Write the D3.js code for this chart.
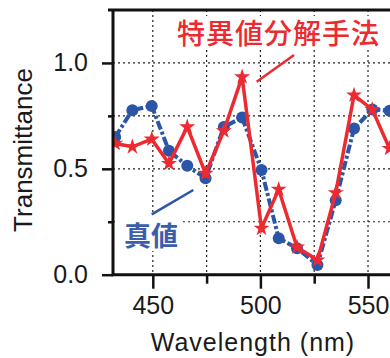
<!DOCTYPE html>
<html>
<head>
<meta charset="utf-8">
<script src="https://cdn.jsdelivr.net/npm/d3@7"></script>
<style>
  body { margin: 0; background: #fff; }
  svg { display: block; }
</style>
</head>
<body>
<div class="container"></div>
<script>
const w = 390, h = 358;
const pad = {top: 10, left: 113, bottom: 274.7};

// data
const wavelength = [432.5, 440.5, 449.5, 457.5, 466, 474.5, 483, 491.5, 500.5, 508.5, 517, 526.5, 535, 543.5, 552, 560];
const trueVals   = [0.65, 0.777, 0.797, 0.585, 0.514, 0.455, 0.698, 0.742, 0.494, 0.172, 0.125, 0.046, 0.352, 0.69, 0.78, 0.774];
const svdVals    = [0.62, 0.604, 0.64, 0.525, 0.698, 0.478, 0.679, 0.934, 0.219, 0.403, 0.13, 0.069, 0.387, 0.848, 0.78, 0.596];
const xMajor = [450, 500, 550];
const xMinor = [475, 525];
const yMajor = [0, 0.5, 1.0];
const yMinor = [0.25, 0.75];

const red = '#ec2a30';
const blue = '#2b56a8';

const svg = d3.select('.container')
              .append('svg')
              .attr('width', w)
              .attr('height', h);

const xScale = d3.scaleLinear().domain([431.5, 575]).range([pad.left, pad.left + 143.5 * 2.152]);
const yScale = d3.scaleLinear().domain([0, 1.25]).range([pad.bottom, pad.top]);
const x1 = xScale.range()[1];

// dotted grid
const grid = svg.append('g').attr('stroke', '#222').attr('stroke-width', 1.2).attr('stroke-dasharray', '2,3');
grid.selectAll('.gx')
    .data(xMajor.concat(xMinor))
    .enter().append('line')
    .attr('x1', d => xScale(d)).attr('x2', d => xScale(d))
    .attr('y1', pad.top).attr('y2', pad.bottom);
grid.selectAll('.gy')
    .data(yMajor.slice(1).concat(yMinor))
    .enter().append('line')
    .attr('x1', pad.left).attr('x2', x1)
    .attr('y1', d => yScale(d)).attr('y2', d => yScale(d));

// white boxes behind the annotations
svg.append('rect').attr('x', 174).attr('y', 16).attr('width', 212).attr('height', 34).attr('fill', '#fff');
svg.append('rect').attr('x', 118).attr('y', 213).attr('width', 63).attr('height', 38).attr('fill', '#fff');

// clip data to the plot area
svg.append('clipPath').attr('id', 'plot')
   .append('rect').attr('x', pad.left).attr('y', pad.top)
   .attr('width', x1 - pad.left).attr('height', pad.bottom - pad.top);
const plot = svg.append('g').attr('clip-path', 'url(#plot)');

const line = d3.line().x(d => xScale(d[0])).y(d => yScale(d[1]));
const trueData = d3.zip(wavelength, trueVals);
const svdData = d3.zip(wavelength, svdVals);

plot.append('path')
    .attr('d', line(trueData))
    .attr('fill', 'none')
    .attr('stroke', blue)
    .attr('stroke-width', 4)
    .attr('stroke-dasharray', '9,2.5,3,2.5');
plot.selectAll('.dot')
    .data(trueData)
    .enter().append('circle')
    .attr('cx', d => xScale(d[0]))
    .attr('cy', d => yScale(d[1]))
    .attr('r', 6)
    .attr('fill', blue);

plot.append('path')
    .attr('d', line(svdData))
    .attr('fill', 'none')
    .attr('stroke', red)
    .attr('stroke-width', 3.5);
plot.selectAll('.star')
    .data(svdData)
    .enter().append('path')
    .attr('d', d3.symbol(d3.symbolStar, 80))
    .attr('transform', d => `translate(${xScale(d[0])},${yScale(d[1])})`)
    .attr('fill', red);

// axes
const font = '"Liberation Sans", Arial, sans-serif';
const styleAxis = g => {
  g.select('.domain').remove();
  g.selectAll('line').attr('stroke', '#111').attr('stroke-width', 2.5);
  g.selectAll('text').style('font-family', font).style('font-size', '25px').attr('fill', '#1a1a1a');
};

svg.append('g')
   .attr('transform', `translate(0,${pad.bottom})`)
   .call(d3.axisBottom(xScale).tickValues(xMajor).tickSize(14).tickPadding(8).tickFormat(d3.format('d')))
   .call(styleAxis);
svg.append('g')
   .attr('transform', `translate(0,${pad.bottom})`)
   .call(d3.axisBottom(xScale).tickValues(xMinor).tickSize(9).tickFormat(''))
   .call(styleAxis);
svg.append('g')
   .attr('transform', `translate(${pad.left},0)`)
   .call(d3.axisLeft(yScale).tickValues(yMajor).tickSize(11).tickPadding(14).tickFormat(d3.format('.1f')))
   .call(styleAxis);
svg.append('g')
   .attr('transform', `translate(${pad.left},0)`)
   .call(d3.axisLeft(yScale).tickValues(yMinor).tickSize(5).tickFormat(''))
   .call(styleAxis);

// frame: left, bottom, top
svg.append('path')
   .attr('d', `M${x1},${pad.top}H${pad.left - 5}M${pad.left},${pad.top}V${pad.bottom}H${x1}`)
   .attr('fill', 'none')
   .attr('stroke', '#111')
   .attr('stroke-width', 3);

// axis titles
svg.append('text')
   .text('Wavelength (nm)')
   .attr('x', 253).attr('y', 351)
   .attr('text-anchor', 'middle')
   .style('font-family', font).style('font-size', '25px').style('letter-spacing', '1px')
   .attr('fill', '#1a1a1a');
svg.append('text')
   .text('Transmittance')
   .attr('transform', 'translate(32,150) rotate(-90)')
   .attr('text-anchor', 'middle')
   .style('font-family', font).style('font-size', '26px')
   .attr('fill', '#1a1a1a');

// annotations
const cjk = '"Noto Sans CJK JP", sans-serif';
svg.append('text')
   .text('特異値分解手法')
   .attr('x', 177).attr('y', 44)
   .style('font-family', cjk).style('font-size', '28px').style('font-weight', 500)
   .style('letter-spacing', '1px')
   .attr('fill', red);
svg.append('line')
   .attr('x1', 256.7).attr('y1', 81.7).attr('x2', 294).attr('y2', 55)
   .attr('stroke', red).attr('stroke-width', 2.5);

svg.append('text')
   .text('真値')
   .attr('x', 124).attr('y', 246)
   .style('font-family', cjk).style('font-size', '27px').style('font-weight', 700)
   .attr('fill', '#3a5eab');
svg.append('line')
   .attr('x1', 151.7).attr('y1', 214.3).attr('x2', 193.3).attr('y2', 190)
   .attr('stroke', blue).attr('stroke-width', 2.5);
</script>
</body>
</html>
